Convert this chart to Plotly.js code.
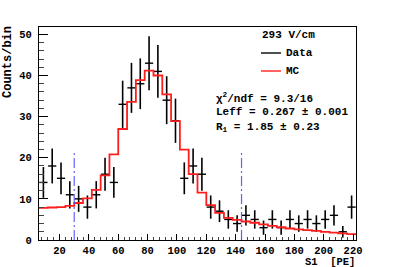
<!DOCTYPE html>
<html>
<head>
<meta charset="utf-8">
<script src="https://cdn.plot.ly/plotly-3.0.1.min.js"></script>
<style>
html,body{margin:0;padding:0;background:#fff;}
#chart{width:395px;height:267px;}
</style>
</head>
<body>
<div id="chart"></div>
<script>
// Bin centers (S1 [PE]), bin width 6
const binCenters = [9,15,21,27,33,39,45,51,57,63,69,75,81,87,93,99,105,111,117,123,129,135,141,147,153,159,165,171,177,183,189,195,201,207,213,219];
const binWidth = 6;
// Data counts per bin
const dataCounts = [14,18,15,11,10,8,11,16,14,33,37,38,43,41,34,29,15,18,16,8,7,5,4,6,5,3,5,3,5,4,5,4,5,6,2,8];
// MC prediction per bin
const mcCounts = [7.8,7.9,8.0,8.3,9.0,10.1,12.2,15.7,20.8,27.0,33.6,38.9,41.2,40.0,35.4,28.9,22.0,16.0,11.5,8.5,6.6,5.4,4.9,4.5,4.2,3.8,3.45,3.1,2.8,2.6,2.4,2.2,2.0,1.8,1.6,1.45];
// Analysis window (dashed lines)
const cutPositions = [30, 144];
const cutHeight = 21.5;
// Text
const fieldLabel = "293 V/cm";
const legendLabels = ["Data", "MC"];
const fitLines = ["χ<sup>2</sup>/ndf = 9.3/16", "Leff = 0.267 ± 0.001", "R<sub>1</sub> = 1.85 ± 0.23"];
const xTitle = "S1  [PE]";
const yTitle = "Counts/bin";

const mono = "Liberation Mono, Courier New, monospace";

const dataErr = dataCounts.map(v => Math.sqrt(v));
const mcX = binCenters.map(c => c - binWidth/2).concat([binCenters[binCenters.length-1] + binWidth/2]);
const mcY = mcCounts.concat([mcCounts[mcCounts.length-1]]);

const traces = [
  {
    type: 'scatter', mode: 'markers', x: binCenters, y: dataCounts,
    marker: {size: 1, color: 'black'},
    error_y: {type: 'data', array: dataErr, visible: true, color: 'black', thickness: 1.6, width: 0},
    error_x: {type: 'constant', value: 2.8, visible: true, color: 'black', thickness: 1.4, width: 0},
    showlegend: false, hoverinfo: 'skip'
  },
  {
    type: 'scatter', mode: 'lines', x: mcX, y: mcY,
    line: {shape: 'hv', color: 'rgb(255,30,30)', width: 1.8},
    showlegend: false, hoverinfo: 'skip'
  }
];

const px = v => (v - 39) / 317;
const py = v => (240 - v) / 213;

const shapes = cutPositions.map(c => ({
  type: 'line', xref: 'x', yref: 'y', x0: c, x1: c, y0: 0, y1: cutHeight,
  line: {color: 'rgba(80,80,255,0.9)', width: 1.2, dash: '10px,3px,2px,3px'}
}));
shapes.push({type: 'line', xref: 'paper', yref: 'paper', x0: px(261), x1: px(281), y0: py(53), y1: py(53), line: {color: '#222', width: 1.6}});
shapes.push({type: 'line', xref: 'paper', yref: 'paper', x0: px(261), x1: px(281), y0: py(71), y1: py(71), line: {color: 'rgb(255,60,60)', width: 1.6}});

const tf = {family: mono, size: 11, color: 'black', weight: 'bold'};
const annotations = [
  {xref: 'paper', yref: 'paper', x: px(288), y: py(35), xanchor: 'center', yanchor: 'middle', text: fieldLabel, showarrow: false, font: tf},
  {xref: 'paper', yref: 'paper', x: px(284), y: py(53), xanchor: 'left', yanchor: 'middle', text: legendLabels[0], showarrow: false, font: tf},
  {xref: 'paper', yref: 'paper', x: px(284), y: py(71), xanchor: 'left', yanchor: 'middle', text: legendLabels[1], showarrow: false, font: tf},
  {xref: 'paper', yref: 'paper', x: px(214), y: py(98), xanchor: 'left', yanchor: 'middle', text: fitLines[0], showarrow: false, font: tf},
  {xref: 'paper', yref: 'paper', x: px(214), y: py(112), xanchor: 'left', yanchor: 'middle', text: fitLines[1], showarrow: false, font: tf},
  {xref: 'paper', yref: 'paper', x: px(214), y: py(127), xanchor: 'left', yanchor: 'middle', text: fitLines[2], showarrow: false, font: tf},
  {xref: 'paper', yref: 'paper', x: 1.0, y: py(261.5), xanchor: 'right', yanchor: 'middle', text: xTitle, showarrow: false, font: {family: mono, size: 10.5, color: 'black', weight: 'bold'}, borderpad: 0},
  {xref: 'paper', yref: 'paper', x: px(8), y: py(62), xanchor: 'center', yanchor: 'middle', textangle: -90, text: yTitle, showarrow: false, font: {family: mono, size: 12, color: 'black', weight: 'bold'}}
];

const tickFont = {family: mono, size: 10.5, color: 'black', weight: 'bold'};
const layout = {
  width: 395, height: 267,
  margin: {l: 39, r: 39, t: 27, b: 27, pad: 0},
  paper_bgcolor: 'white', plot_bgcolor: 'white',
  showlegend: false,
  xaxis: {
    range: [6, 222], showline: true, mirror: true, linecolor: 'black', linewidth: 1,
    ticks: 'inside', ticklen: 6, tickwidth: 1, tickcolor: 'black',
    tick0: 0, dtick: 20, showgrid: false, zeroline: false,
    minor: {dtick: 4, tick0: 0, ticks: 'inside', ticklen: 3, tickwidth: 1, tickcolor: '#444', showgrid: false},
    tickfont: tickFont, ticklabelstandoff: 0
  },
  yaxis: {
    range: [0, 51.8], showline: true, mirror: true, linecolor: 'black', linewidth: 1,
    ticks: 'inside', ticklen: 9, tickwidth: 1, tickcolor: 'black',
    tick0: 0, dtick: 10, showgrid: false, zeroline: false,
    minor: {dtick: 2, tick0: 0, ticks: 'inside', ticklen: 5, tickwidth: 1, tickcolor: '#444', showgrid: false},
    tickfont: tickFont, ticklabelstandoff: 4
  },
  shapes: shapes,
  annotations: annotations
};

Plotly.newPlot('chart', traces, layout, {staticPlot: true, displayModeBar: false});
</script>
</body>
</html>
